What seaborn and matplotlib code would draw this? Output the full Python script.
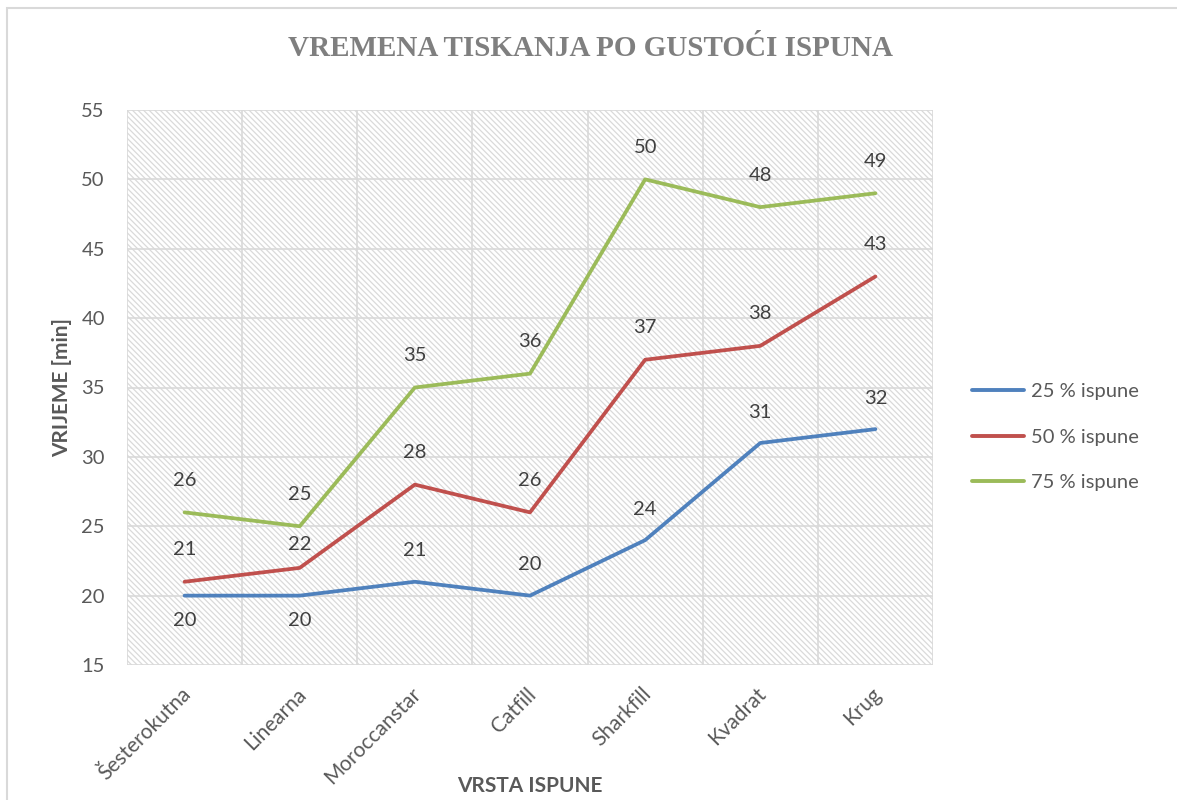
import matplotlib
matplotlib.use("Agg")
import matplotlib.pyplot as plt
import matplotlib.transforms as mtransforms
from matplotlib.patches import Rectangle
from matplotlib.lines import Line2D
import numpy as np
import pandas as pd
import seaborn as sns

# ---- data -------------------------------------------------------------
categories = ["Šesterokutna", "Linearna", "Moroccanstar", "Catfill",
              "Sharkfill", "Kvadrat", "Krug"]
ispuna_25 = [20, 20, 21, 20, 24, 31, 32]
ispuna_50 = [21, 22, 28, 26, 37, 38, 43]
ispuna_75 = [26, 25, 35, 36, 50, 48, 49]
series_names = ["25 % ispune", "50 % ispune", "75 % ispune"]
y_ticks = [15, 20, 25, 30, 35, 40, 45, 50, 55]

series_values = [ispuna_25, ispuna_50, ispuna_75]
colors = ["#4f81bd", "#c0504d", "#9bbb59"]

df = pd.DataFrame({
    "Vrsta": categories * 3,
    "Vrijeme": ispuna_25 + ispuna_50 + ispuna_75,
    "Serija": [n for n in series_names for _ in categories],
})

sns.set_theme(style="white")
plt.rcParams["font.family"] = ["Lato", "DejaVu Sans"]
plt.rcParams["hatch.color"] = "#dadada"
plt.rcParams["hatch.linewidth"] = 0.9

TXT = "#595959"
GRID = "#d9d9d9"

fig = plt.figure(figsize=(11.77, 8.0), dpi=100)
fig.patch.set_facecolor("white")

# outer chart frame
fig.add_artist(Rectangle((7 / 1177, -0.05), 1.2, 1 - 8 / 800 + 0.05,
                         transform=fig.transFigure, fill=False,
                         edgecolor="#d9d9d9", linewidth=1.5))

ax = fig.add_axes([127 / 1177, 135 / 800, 806 / 1177, 555 / 800])

# hatched plot area
ax.add_patch(Rectangle((0, 0), 1, 1, transform=ax.transAxes,
                       facecolor="white", edgecolor="#dadada",
                       hatch="\\" * 6, linewidth=0, zorder=0))

sns.lineplot(data=df, x="Vrsta", y="Vrijeme", hue="Serija",
             palette=colors, sort=False, linewidth=2.7, ax=ax,
             legend=False, zorder=3)

ax.set_xlim(-0.5, len(categories) - 0.5)
ax.set_ylim(y_ticks[0], y_ticks[-1])
ax.set_yticks(y_ticks)
ax.set_xticks(range(len(categories)))
ax.set_xticks(np.arange(-0.5, len(categories), 0.5), minor=True)

ax.grid(False)
ax.grid(which="minor", axis="x", color=GRID, linewidth=1.2, zorder=1)
ax.grid(which="major", axis="y", color=GRID, linewidth=1.2, zorder=1)
ax.set_axisbelow(True)
for s in ax.spines.values():
    s.set_visible(False)

ax.tick_params(axis="both", which="both", length=0)
ax.tick_params(axis="y", labelsize=14.5, labelcolor=TXT, pad=16)
ax.tick_params(axis="x", labelsize=15, labelcolor=TXT, pad=0)

ax.set_xticklabels(categories)
offset = mtransforms.ScaledTranslation(3 / 100, -26 / 100, fig.dpi_scale_trans)
for lab in ax.get_xticklabels():
    lab.set_rotation(45)
    lab.set_ha("right")
    lab.set_va("center")
    lab.set_rotation_mode("anchor")
    lab.set_transform(lab.get_transform() + offset)

ax.set_xlabel("")
fig.text(530 / 1177, 1 - 786 / 800, "VRSTA ISPUNE", ha="center", va="center",
         fontsize=15, fontweight="bold", color=TXT)
ax.set_ylabel("VRIJEME [min]", fontsize=15, fontweight="bold", color=TXT)
ax.yaxis.set_label_coords(-0.068, 0.5)

# data labels (offset in pixels from each point)
label_offsets = [
    [-25, -25, 31, 31, 31, 31, 31],
    [32, 23, 32, 32, 32, 32, 32],
    [32, 32, 32, 32, 32, 32, 32],
]
for idx, vals in enumerate(series_values):
    for i, v in enumerate(vals):
        ax.annotate(str(v), (i, v), xytext=(0, label_offsets[idx][i]),
                    textcoords="offset pixels", ha="center", va="center",
                    fontsize=14.5, color="#404040", zorder=5)

# legend
handles = [Line2D([], [], color=c, linewidth=2.8) for c in colors]
fig.legend(handles, series_names, loc="center left",
           bbox_to_anchor=(954 / 1177, 1 - 437 / 800), frameon=False,
           fontsize=14.5, labelcolor=TXT, handlelength=2.6,
           handletextpad=0.3, labelspacing=1.4)

fig.text(0.502, 1 - 48 / 800, "VREMENA TISKANJA PO GUSTOĆI ISPUNA",
         ha="center", va="center", fontsize=21, fontweight="bold",
         family="Liberation Serif", color="#7f7f7f")

fig.savefig("out.png", dpi=100)
